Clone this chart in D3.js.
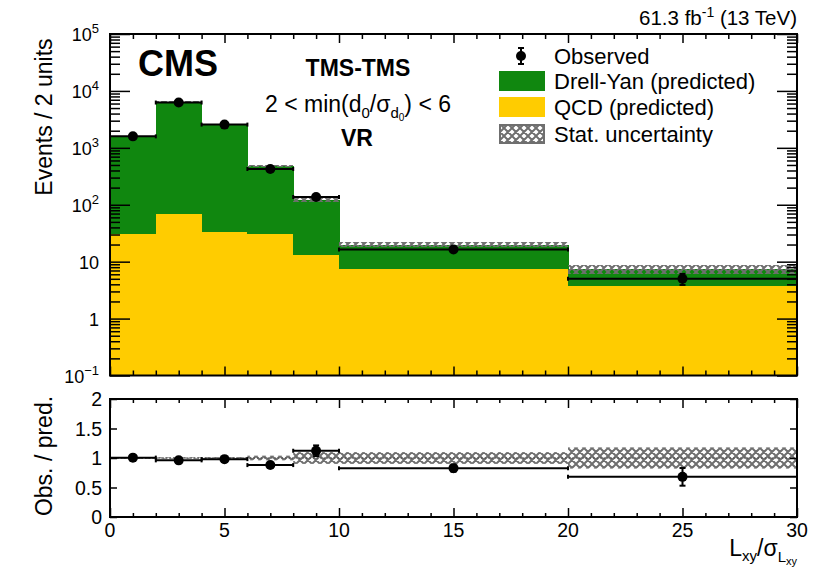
<!DOCTYPE html>
<html>
<head>
<meta charset="utf-8">
<script src="https://cdn.jsdelivr.net/npm/d3@7"></script>
<style>
  body { margin: 0; background: #fff; }
  text { font-family: "Liberation Sans", Arial, Helvetica, sans-serif; fill: #000; }
</style>
</head>
<body>
<svg id="chart" width="820" height="569"></svg>
<script>
// ---- data ----
const binEdges    = [0, 2, 4, 6, 8, 10, 20, 30];
const observed    = [1590, 6250, 2560, 425, 137, 16.4, 5.0];
const observedErr = [40, 80, 50, 20, 11, 1.2, 1.1];
const drellYan    = [1549, 6442, 2577, 452, 109, 12.5, 3.65];
const qcd         = [31, 68, 33, 31, 13, 7.3, 3.7];
const statUnc     = [0.012, 0.012, 0.015, 0.04, 0.1, 0.1, 0.18]; // relative
const yTickPowers = [-1, 0, 1, 2, 3, 4, 5];
const ratioTicks  = [0, 0.5, 1, 1.5, 2];
const xTicks      = [0, 5, 10, 15, 20, 25, 30];

// ---- layout ----
const X0 = 110, X1 = 797;
const MT = 34, MB = 375.5;       // main pad
const RT = 399, RB = 517;        // ratio pad
const GREEN = "#10870f", YELLOW = "#ffcc00", HATCH = "#6f6f6f";

const svg = d3.select("#chart");
svg.append("rect").attr("width", 820).attr("height", 569).attr("fill", "#fff");

const defs = svg.append("defs");
const pat = defs.append("pattern").attr("id", "hatch")
  .attr("patternUnits", "userSpaceOnUse").attr("width", 8).attr("height", 8);
pat.append("path").attr("d", "M0,0L8,8M8,0L0,8M-1,7L1,9M7,-1L9,1")
  .attr("stroke", HATCH).attr("stroke-width", 2).attr("fill", "none");

const x = d3.scaleLinear().domain([0, 30]).range([X0, X1]);
const y = d3.scaleLog().domain([0.1, 1e5]).range([MB, MT]);
const yr = d3.scaleLinear().domain([0, 2]).range([RB, RT]);

const bins = observed.map((o, i) => ({
  lo: binEdges[i], hi: binEdges[i + 1], mid: (binEdges[i] + binEdges[i + 1]) / 2,
  obs: o, err: observedErr[i], dy: drellYan[i], qcd: qcd[i],
  pred: drellYan[i] + qcd[i], unc: statUnc[i]
}));

// ---- main pad: stacked predictions ----
const main = svg.append("g").attr("shape-rendering", "crispEdges");
main.selectAll(".qcd").data(bins).join("rect")
  .attr("x", d => x(d.lo)).attr("width", d => x(d.hi) - x(d.lo) + 0.5)
  .attr("y", d => y(d.qcd)).attr("height", d => MB - y(d.qcd))
  .attr("fill", YELLOW);
main.selectAll(".dy").data(bins).join("rect")
  .attr("x", d => x(d.lo)).attr("width", d => x(d.hi) - x(d.lo) + 0.5)
  .attr("y", d => y(d.pred)).attr("height", d => y(d.qcd) - y(d.pred))
  .attr("fill", GREEN);
main.selectAll(".unc").data(bins).join("rect")
  .attr("x", d => x(d.lo)).attr("width", d => x(d.hi) - x(d.lo))
  .attr("y", d => y(d.pred * (1 + d.unc)))
  .attr("height", d => y(d.pred * (1 - d.unc)) - y(d.pred * (1 + d.unc)))
  .attr("fill", "url(#hatch)");

function drawPoints(g, data, sy, val, err) {
  data.forEach(d => {
    const cy = sy(val(d));
    g.append("line").attr("x1", x(d.lo)).attr("x2", x(d.hi)).attr("y1", cy).attr("y2", cy)
      .attr("stroke", "#000").attr("stroke-width", 2);
    [d.lo, d.hi].forEach(e => g.append("line").attr("x1", x(e)).attr("x2", x(e))
      .attr("y1", cy - 2).attr("y2", cy + 2).attr("stroke", "#000").attr("stroke-width", 2));
    const [e1, e2] = err(d);
    g.append("line").attr("x1", x(d.mid)).attr("x2", x(d.mid))
      .attr("y1", sy(e1)).attr("y2", sy(e2)).attr("stroke", "#000").attr("stroke-width", 2);
    [e1, e2].forEach(v => g.append("line").attr("x1", x(d.mid) - 3).attr("x2", x(d.mid) + 3)
      .attr("y1", sy(v)).attr("y2", sy(v)).attr("stroke", "#000").attr("stroke-width", 2));
    g.append("circle").attr("cx", x(d.mid)).attr("cy", cy).attr("r", 5).attr("fill", "#000");
  });
}
drawPoints(svg.append("g"), bins, y, d => d.obs, d => [d.obs - d.err, d.obs + d.err]);

// ---- ratio pad ----
const ratio = svg.append("g");
ratio.selectAll(".runc").data(bins).join("rect")
  .attr("x", d => x(d.lo)).attr("width", d => x(d.hi) - x(d.lo))
  .attr("y", d => yr(1 + d.unc)).attr("height", d => yr(1 - d.unc) - yr(1 + d.unc))
  .attr("fill", "url(#hatch)");
ratio.append("line").attr("x1", X0).attr("x2", X1).attr("y1", yr(1)).attr("y2", yr(1))
  .attr("stroke", "#444").attr("stroke-width", 1).attr("stroke-dasharray", "1.5,2");
drawPoints(ratio, bins, yr, d => d.obs / d.pred,
  d => [(d.obs - d.err) / d.pred, (d.obs + d.err) / d.pred]);

// ---- axes (inward ticks) ----
function cleanAxis(g) { g.select(".domain").remove(); g.selectAll("line").attr("stroke-width", 1.5); }
const majY = yTickPowers.map(p => Math.pow(10, p));
const minY = [];
yTickPowers.slice(0, -1).forEach(p => { for (let k = 2; k <= 9; k++) minY.push(k * Math.pow(10, p)); });
const xMinor = d3.range(0, 31, 1).filter(v => v % 5 !== 0);

function frameAxes(sy, yMaj, yMin, yMajLen, yMinLen, xMajLen, xMinLen, top, bottom) {
  [[d3.axisLeft, X0], [d3.axisRight, X1]].forEach(([ax, tx]) => {
    svg.append("g").attr("transform", `translate(${tx},0)`)
      .call(ax(sy).tickValues(yMaj).tickSize(-yMajLen).tickFormat("")).call(cleanAxis);
    if (yMin.length) svg.append("g").attr("transform", `translate(${tx},0)`)
      .call(ax(sy).tickValues(yMin).tickSize(-yMinLen).tickFormat("")).call(cleanAxis);
  });
  [[d3.axisTop, top], [d3.axisBottom, bottom]].forEach(([ax, ty]) => {
    svg.append("g").attr("transform", `translate(0,${ty})`)
      .call(ax(x).tickValues(xTicks).tickSize(-xMajLen).tickFormat("")).call(cleanAxis);
    svg.append("g").attr("transform", `translate(0,${ty})`)
      .call(ax(x).tickValues(xMinor).tickSize(-xMinLen).tickFormat("")).call(cleanAxis);
  });
  svg.append("rect").attr("x", X0).attr("y", top).attr("width", X1 - X0).attr("height", bottom - top)
    .attr("fill", "none").attr("stroke", "#000").attr("stroke-width", 2);
}
frameAxes(y, majY, minY, 20, 10, 9, 5, MT, MB);
frameAxes(yr, ratioTicks, [], 7, 0, 9, 4, RT, RB);

// y tick labels of the log axis
yTickPowers.forEach(p => {
  const t = svg.append("text").attr("x", 99).attr("y", y(Math.pow(10, p)) + 7)
    .attr("text-anchor", "end").attr("font-size", 18);
  if (p === 0) t.text("1");
  else if (p === 1) t.text("10");
  else {
    t.append("tspan").text("10");
    t.append("tspan").attr("dy", -8).attr("font-size", 13).text(p < 0 ? "\u2212" + (-p) : p);
  }
});
ratioTicks.forEach(v => svg.append("text").attr("x", 102).attr("y", yr(v) + 7)
  .attr("text-anchor", "end").attr("font-size", 19.5).text(d3.format("~g")(v)));
xTicks.forEach(v => svg.append("text").attr("x", x(v)).attr("y", 537)
  .attr("text-anchor", "middle").attr("font-size", 19.5).text(v));

// axis titles
svg.append("text").attr("transform", "translate(52,117) rotate(-90)")
  .attr("text-anchor", "middle").attr("font-size", 23).text("Events / 2 units");
svg.append("text").attr("transform", "translate(52,456) rotate(-90)")
  .attr("text-anchor", "middle").attr("font-size", 23).text("Obs. / pred.");
const xt = svg.append("text").attr("x", 797).attr("y", 556).attr("text-anchor", "end").attr("font-size", 23);
xt.append("tspan").text("L");
xt.append("tspan").attr("dy", 5).attr("font-size", 15).text("xy");
xt.append("tspan").attr("dy", -5).text("/\u03c3");
xt.append("tspan").attr("dy", 6).attr("font-size", 15).text("L");
xt.append("tspan").attr("dy", 3).attr("font-size", 11).text("xy");

// luminosity
const lumi = svg.append("text").attr("x", 797).attr("y", 25).attr("text-anchor", "end").attr("font-size", 20.5);
lumi.append("tspan").text("61.3 fb");
lumi.append("tspan").attr("dy", -8).attr("font-size", 14).text("-1");
lumi.append("tspan").attr("dy", 8).text(" (13 TeV)");

// labels inside the frame
svg.append("text").attr("x", 138).attr("y", 76).attr("font-size", 36).attr("font-weight", "bold").text("CMS");
svg.append("text").attr("x", 358).attr("y", 76).attr("text-anchor", "middle")
  .attr("font-size", 23).attr("font-weight", "bold").text("TMS-TMS");
const sel = svg.append("text").attr("x", 358).attr("y", 112).attr("text-anchor", "middle").attr("font-size", 23);
sel.append("tspan").text("2 < min(d");
sel.append("tspan").attr("dy", 6).attr("font-size", 15).text("0");
sel.append("tspan").attr("dy", -6).text("/\u03c3");
sel.append("tspan").attr("dy", 6).attr("font-size", 15).text("d");
sel.append("tspan").attr("dy", 3).attr("font-size", 10).text("0");
sel.append("tspan").attr("dy", -9).text(") < 6");
svg.append("text").attr("x", 357).attr("y", 146).attr("text-anchor", "middle")
  .attr("font-size", 23).attr("font-weight", "bold").text("VR");

// legend
const lg = svg.append("g");
const rows = [56, 81, 107, 134];
lg.append("line").attr("x1", 521).attr("x2", 521).attr("y1", rows[0] - 8).attr("y2", rows[0] + 8)
  .attr("stroke", "#000").attr("stroke-width", 2);
[rows[0] - 8, rows[0] + 8].forEach(v => lg.append("line").attr("x1", 518).attr("x2", 524)
  .attr("y1", v).attr("y2", v).attr("stroke", "#000").attr("stroke-width", 2));
lg.append("circle").attr("cx", 521).attr("cy", rows[0]).attr("r", 5).attr("fill", "#000");
lg.append("rect").attr("x", 499).attr("y", rows[1] - 10).attr("width", 46).attr("height", 20).attr("fill", GREEN);
lg.append("rect").attr("x", 499).attr("y", rows[2] - 10).attr("width", 46).attr("height", 20).attr("fill", YELLOW);
lg.append("rect").attr("x", 500).attr("y", rows[3] - 9).attr("width", 44).attr("height", 18)
  .attr("fill", "url(#hatch)").attr("stroke", HATCH).attr("stroke-width", 2);
["Observed", "Drell-Yan (predicted)", "QCD (predicted)", "Stat. uncertainty"].forEach((s, i) =>
  lg.append("text").attr("x", 554).attr("y", rows[i] + 7.5).attr("font-size", 22).text(s));
</script>
</body>
</html>
